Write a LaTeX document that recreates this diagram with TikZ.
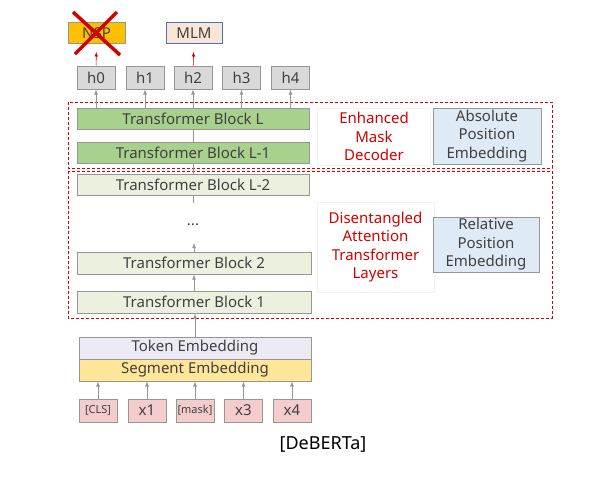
\documentclass[tikz,border=0pt]{standalone}
\usepackage{fontspec}
\setmainfont{Noto Sans}
\usetikzlibrary{shapes}

\definecolor{boxgray}{RGB}{150,150,150}
\definecolor{textgray}{RGB}{64,64,64}
\definecolor{hgray}{RGB}{217,217,217}
\definecolor{nspfill}{RGB}{255,192,0}
\definecolor{mlmfill}{RGB}{251,229,214}
\definecolor{mlmline}{RGB}{68,114,196}
\definecolor{topgreen}{RGB}{169,209,142}
\definecolor{lowgreen}{RGB}{235,241,222}
\definecolor{tokfill}{RGB}{236,234,244}
\definecolor{segfill}{RGB}{255,230,153}
\definecolor{infill}{RGB}{244,204,204}
\definecolor{posfill}{RGB}{222,235,247}
\definecolor{darkred}{RGB}{210,0,0}

\newcommand{\tagfont}{\fontsize{11}{13}\selectfont}

\tikzset{
  box/.style={draw=boxgray, line width=0.8pt, inner sep=0pt, text=textgray, minimum height=22pt},
  arr/.style={->, >=latex, draw=boxgray, line width=0.8pt},
  redarr/.style={->, >=latex, draw=darkred, line width=0.6pt, shorten >=8pt},
  lbl/.style={draw=black!5, text=darkred, align=center, inner sep=0pt, font=\fontsize{15}{18.5}\selectfont}
}

\begin{document}
\begin{tikzpicture}[x=1pt, y=-1pt, font=\fontsize{15}{17}\selectfont]
    \useasboundingbox (0,0) rectangle (598,482);
    % output heads
    \node[box, fill=nspfill, minimum width=57pt, minimum height=21pt] (nsp) at (96.5,33) {NSP};
    \node[box, draw=mlmline, fill=mlmfill, minimum width=56pt, minimum height=21pt] (mlm) at (194,33) {MLM};
    \draw[darkred, line width=3.5pt] (73,12) -- (120,55);
    \draw[darkred, line width=3.5pt] (117,12) -- (75,54);
    % hidden states
    \foreach \i/\x in {0/96,1/145,2/193,3/241.5,4/290.5}
        \node[box, fill=hgray, minimum width=38pt, minimum height=23pt] (h\i) at (\x,77.5) {h\i};
    % transformer blocks
    \node[box, fill=topgreen, minimum width=232pt, minimum height=21pt] (blkL) at (193,118.5) {Transformer Block L};
    \node[box, fill=topgreen, minimum width=232pt, minimum height=21pt] (blkLa) at (193,152.5) {Transformer Block L-1};
    \node[box, fill=lowgreen, minimum width=232pt, minimum height=21pt] (blkLb) at (193,184.5) {Transformer Block L-2};
    \node[text=textgray] (dots) at (193,225) {...};
    \node[box, fill=lowgreen, minimum width=234pt] (blk2) at (194,263) {Transformer Block 2};
    \node[box, fill=lowgreen, minimum width=234pt] (blk1) at (194,302) {Transformer Block 1};
    \coordinate (dotstop) at (193,203);
    \coordinate (dotsbot) at (194,243);
    % embeddings
    \node[box, fill=tokfill, minimum width=232pt] (tok) at (195,348) {Token Embedding};
    \node[box, fill=segfill, minimum width=232pt] (seg) at (195,370) {Segment Embedding};
    \foreach \i/\x/\t in {0/98/{\tagfont[CLS]},1/147/x1,2/195/{\tagfont[mask]},3/243.5/x3,4/292/x4}
        \node[box, fill=infill, minimum width=38pt, minimum height=23pt] (in\i) at (\x,410.5) {\t};
    % side labels
    \node[lbl, minimum width=113pt, minimum height=57pt] (emd) at (374,136.5) {Enhanced\\Mask\\Decoder};
    \node[box, fill=posfill, minimum width=108pt, minimum height=56pt, align=center, font=\fontsize{15}{18.5}\selectfont] (abs) at (487,136) {Absolute\\Position\\Embedding};
    \node[lbl, minimum width=117pt, minimum height=90pt] (dat) at (375.5,247) {Disentangled\\Attention\\Transformer\\Layers};
    \node[box, fill=posfill, minimum width=106pt, minimum height=55pt, align=center, font=\fontsize{15}{18.5}\selectfont] (rel) at (486,244.5) {Relative\\Position\\Embedding};
    \node (cap) at (323,444) {\fontsize{18}{21}\selectfont [DeBERTa]};
    % dashed groups
    \draw[darkred, line width=0.9pt, dash pattern=on 3pt off 2pt] (68,102) rectangle (552,168);
    \draw[darkred, line width=0.9pt, dash pattern=on 3pt off 2pt] (68,171) rectangle (552,318);
    % connectors
    \draw[redarr] (h0) -- (nsp);
    \draw[redarr] (h2) -- (mlm);
    \foreach \i in {0,...,4} {
        \draw[arr] (blkL.north -| h\i) -- (h\i);
        \draw[arr] (in\i) -- (seg.south -| in\i);
    }
    \draw[draw=boxgray, line width=0.8pt] (blkLa) -- (blkL);
    \draw[draw=boxgray, line width=0.8pt] (blkLb) -- (blkLa);
    \draw[draw=boxgray, line width=0.8pt] (blkLb) -- (dotstop);
    \draw[arr] (blk2) -- (dotsbot);
    \draw[arr] (blk1) -- (blk2);
    \draw[arr] (tok) -- (blk1.south -| tok);
\end{tikzpicture}
\end{document}
